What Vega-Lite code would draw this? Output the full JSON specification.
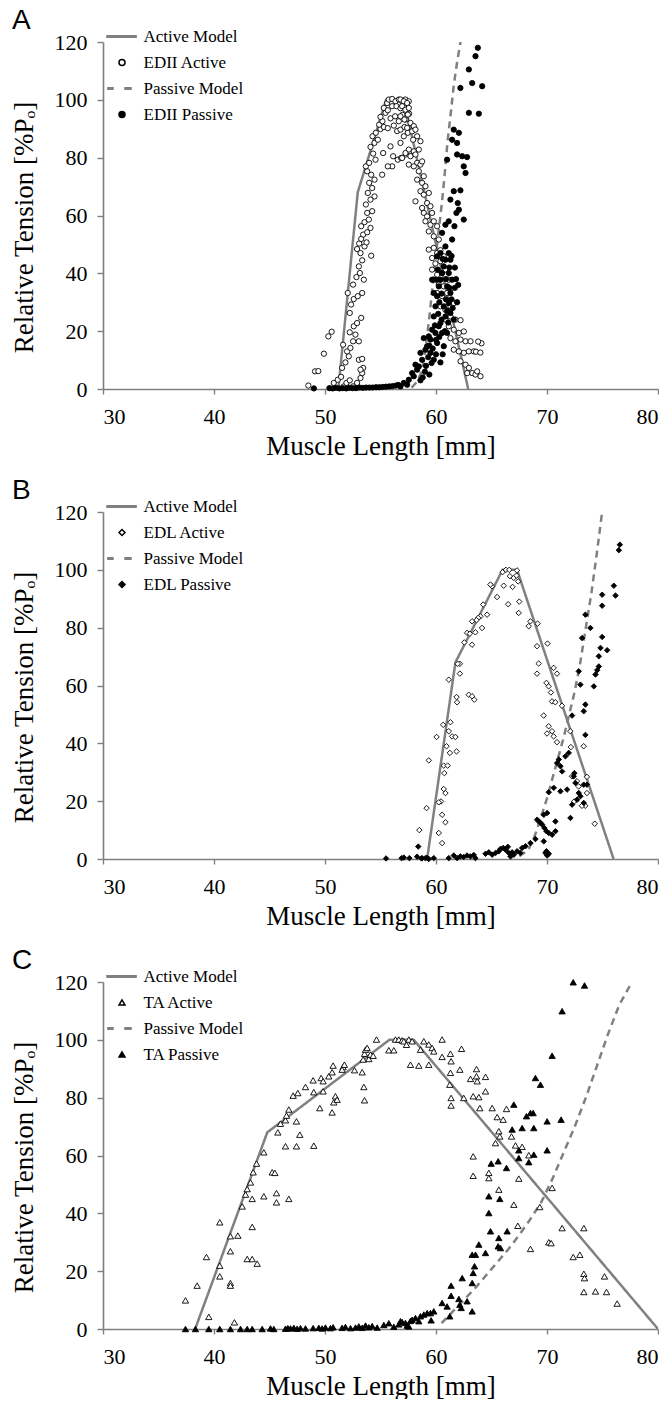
{
  "$schema": "https://vega.github.io/schema/vega-lite/v6.json",
  "padding": {"left": 10, "top": 7, "right": 0, "bottom": 0},
  "background": "white",
  "config": {
    "view": {"stroke": null},
    "axis": {"grid": false, "domainColor": "#7f7f7f", "domainWidth": 1.6, "tickColor": "#7f7f7f", "tickWidth": 1.4, "tickSize": 5, "labelFont": "Liberation Serif", "labelFontSize": 22, "labelColor": "black", "titleFont": "Liberation Serif", "titleFontSize": 27, "titleFontWeight": "normal", "titleColor": "black"},
    "title": {"font": "Liberation Sans", "fontSize": 28, "fontWeight": "normal", "color": "black", "anchor": "start", "frame": "group", "offset": -7},
    "legend": {"orient": "none", "legendX": 10.5, "legendY": -14, "title": null, "padding": 0, "labelFont": "Liberation Serif", "labelFontSize": 17, "labelColor": "black", "symbolSize": 36, "labelOffset": 13, "rowPadding": 8, "labelLimit": 0, "symbolOpacity": 1}
  },
  "datasets": {
    "A_model": [
      {"series": "Active Model", "x": 51.2, "y": 0}, {"series": "Active Model", "x": 52.95, "y": 68}, {"series": "Active Model", "x": 55.5, "y": 100}, {"series": "Active Model", "x": 57.1, "y": 100}, {"series": "Active Model", "x": 62.9, "y": 0},
      {"series": "Passive Model", "x": 57.8, "y": 0.5}, {"series": "Passive Model", "x": 58.3, "y": 2.5}, {"series": "Passive Model", "x": 58.75, "y": 6.5}, {"series": "Passive Model", "x": 59.05, "y": 14}, {"series": "Passive Model", "x": 59.35, "y": 23}, {"series": "Passive Model", "x": 59.65, "y": 34}, {"series": "Passive Model", "x": 59.95, "y": 45}, {"series": "Passive Model", "x": 60.25, "y": 55}, {"series": "Passive Model", "x": 60.55, "y": 65}, {"series": "Passive Model", "x": 60.8, "y": 75}, {"series": "Passive Model", "x": 61.05, "y": 86}, {"series": "Passive Model", "x": 61.35, "y": 96}, {"series": "Passive Model", "x": 61.6, "y": 105}, {"series": "Passive Model", "x": 61.9, "y": 113}, {"series": "Passive Model", "x": 62.25, "y": 121}
    ],
    "A_pts": [
      {"series": "EDII Active", "x": 48.5, "y": 1.2}, {"series": "EDII Active", "x": 49.1, "y": 6.1}, {"series": "EDII Active", "x": 49.4, "y": 6.2}, {"series": "EDII Active", "x": 49.9, "y": 12.2}, {"series": "EDII Active", "x": 50.3, "y": 18.2}, {"series": "EDII Active", "x": 50.6, "y": 19.8},
      {"series": "EDII Active", "x": 50.79, "y": 2.1}, {"series": "EDII Active", "x": 51.15, "y": 3.2}, {"series": "EDII Active", "x": 51.45, "y": 4.2}, {"series": "EDII Active", "x": 51.69, "y": 0.9}, {"series": "EDII Active", "x": 51.93, "y": 2.1}, {"series": "EDII Active", "x": 52.23, "y": 3.0}, {"series": "EDII Active", "x": 52.53, "y": 0.9}, {"series": "EDII Active", "x": 52.89, "y": 2.1}, {"series": "EDII Active", "x": 53.2, "y": 3.8}, {"series": "EDII Active", "x": 53.35, "y": 5.5}, {"series": "EDII Active", "x": 53.44, "y": 7.3}, {"series": "EDII Active", "x": 51.54, "y": 7.3}, {"series": "EDII Active", "x": 51.84, "y": 9.2}, {"series": "EDII Active", "x": 52.14, "y": 11.3}, {"series": "EDII Active", "x": 53.2, "y": 6.7}, {"series": "EDII Active", "x": 53.05, "y": 10.1}, {"series": "EDII Active", "x": 53.35, "y": 10.4},
      {"series": "EDII Active", "x": 51.63, "y": 15.3}, {"series": "EDII Active", "x": 51.99, "y": 13.0}, {"series": "EDII Active", "x": 52.29, "y": 14.2}, {"series": "EDII Active", "x": 52.53, "y": 16.5}, {"series": "EDII Active", "x": 52.74, "y": 18.8}, {"series": "EDII Active", "x": 53.05, "y": 16.5}, {"series": "EDII Active", "x": 52.23, "y": 19.6}, {"series": "EDII Active", "x": 52.59, "y": 21.7}, {"series": "EDII Active", "x": 52.89, "y": 22.8}, {"series": "EDII Active", "x": 53.26, "y": 24.6},
      {"series": "EDII Active", "x": 52.23, "y": 26.3}, {"series": "EDII Active", "x": 52.35, "y": 29.2}, {"series": "EDII Active", "x": 52.59, "y": 31.1}, {"series": "EDII Active", "x": 52.95, "y": 32.1}, {"series": "EDII Active", "x": 53.35, "y": 33.2}, {"series": "EDII Active", "x": 52.05, "y": 33.2}, {"series": "EDII Active", "x": 52.53, "y": 36.1}, {"series": "EDII Active", "x": 52.83, "y": 38.7}, {"series": "EDII Active", "x": 53.14, "y": 40.1}, {"series": "EDII Active", "x": 53.5, "y": 37.8},
      {"series": "EDII Active", "x": 53.05, "y": 42.4}, {"series": "EDII Active", "x": 53.35, "y": 44.5}, {"series": "EDII Active", "x": 54.16, "y": 46.1}, {"series": "EDII Active", "x": 53.2, "y": 47.0}, {"series": "EDII Active", "x": 52.89, "y": 48.4}, {"series": "EDII Active", "x": 53.56, "y": 49.3}, {"series": "EDII Active", "x": 53.74, "y": 50.7}, {"series": "EDII Active", "x": 53.08, "y": 50.3}, {"series": "EDII Active", "x": 53.26, "y": 51.9}, {"series": "EDII Active", "x": 53.44, "y": 53.4}, {"series": "EDII Active", "x": 53.8, "y": 54.2}, {"series": "EDII Active", "x": 54.1, "y": 55.7}, {"series": "EDII Active", "x": 53.26, "y": 56.3}, {"series": "EDII Active", "x": 53.56, "y": 57.7}, {"series": "EDII Active", "x": 53.95, "y": 58.6},
      {"series": "EDII Active", "x": 54.25, "y": 61.5}, {"series": "EDII Active", "x": 53.8, "y": 60.9}, {"series": "EDII Active", "x": 53.68, "y": 63.8}, {"series": "EDII Active", "x": 54.1, "y": 65.5}, {"series": "EDII Active", "x": 54.46, "y": 66.6}, {"series": "EDII Active", "x": 53.86, "y": 67.8}, {"series": "EDII Active", "x": 54.25, "y": 69.5}, {"series": "EDII Active", "x": 53.98, "y": 71.3}, {"series": "EDII Active", "x": 54.46, "y": 72.4}, {"series": "EDII Active", "x": 54.16, "y": 74.1}, {"series": "EDII Active", "x": 53.8, "y": 75.3}, {"series": "EDII Active", "x": 53.68, "y": 77.0}, {"series": "EDII Active", "x": 53.98, "y": 78.2}, {"series": "EDII Active", "x": 54.55, "y": 79.3}, {"series": "EDII Active", "x": 54.34, "y": 81.4}, {"series": "EDII Active", "x": 54.1, "y": 83.7}, {"series": "EDII Active", "x": 54.46, "y": 85.1}, {"series": "EDII Active", "x": 54.76, "y": 86.2}, {"series": "EDII Active", "x": 54.28, "y": 87.4}, {"series": "EDII Active", "x": 54.58, "y": 88.6}, {"series": "EDII Active", "x": 55.0, "y": 89.9}, {"series": "EDII Active", "x": 54.88, "y": 91.4}, {"series": "EDII Active", "x": 55.18, "y": 92.6}, {"series": "EDII Active", "x": 55.0, "y": 94.1}, {"series": "EDII Active", "x": 55.45, "y": 95.5}, {"series": "EDII Active", "x": 55.3, "y": 97.2}, {"series": "EDII Active", "x": 55.6, "y": 98.9}, {"series": "EDII Active", "x": 55.75, "y": 100.1},
      {"series": "EDII Active", "x": 56.05, "y": 100.3}, {"series": "EDII Active", "x": 56.35, "y": 99.5}, {"series": "EDII Active", "x": 56.65, "y": 100.1}, {"series": "EDII Active", "x": 56.95, "y": 99.5}, {"series": "EDII Active", "x": 57.25, "y": 100.1}, {"series": "EDII Active", "x": 57.55, "y": 99.5}, {"series": "EDII Active", "x": 55.66, "y": 96.4}, {"series": "EDII Active", "x": 56.05, "y": 97.8}, {"series": "EDII Active", "x": 56.44, "y": 97.8}, {"series": "EDII Active", "x": 56.8, "y": 97.1}, {"series": "EDII Active", "x": 57.1, "y": 97.8}, {"series": "EDII Active", "x": 57.4, "y": 96.6}, {"series": "EDII Active", "x": 55.9, "y": 93.6}, {"series": "EDII Active", "x": 56.32, "y": 94.3}, {"series": "EDII Active", "x": 56.65, "y": 92.6}, {"series": "EDII Active", "x": 56.98, "y": 94.8}, {"series": "EDII Active", "x": 57.28, "y": 93.2}, {"series": "EDII Active", "x": 57.58, "y": 95.2}, {"series": "EDII Active", "x": 55.3, "y": 90.6}, {"series": "EDII Active", "x": 55.66, "y": 90.2}, {"series": "EDII Active", "x": 56.2, "y": 91.1}, {"series": "EDII Active", "x": 56.5, "y": 89.2}, {"series": "EDII Active", "x": 56.8, "y": 89.7}, {"series": "EDII Active", "x": 57.16, "y": 90.6}, {"series": "EDII Active", "x": 57.46, "y": 88.6},
      {"series": "EDII Active", "x": 55.24, "y": 81.6}, {"series": "EDII Active", "x": 55.9, "y": 83.9}, {"series": "EDII Active", "x": 56.14, "y": 80.5}, {"series": "EDII Active", "x": 56.05, "y": 77.0}, {"series": "EDII Active", "x": 56.56, "y": 79.3}, {"series": "EDII Active", "x": 56.86, "y": 79.9}, {"series": "EDII Active", "x": 57.28, "y": 81.1}, {"series": "EDII Active", "x": 57.58, "y": 82.2}, {"series": "EDII Active", "x": 57.55, "y": 77.6}, {"series": "EDII Active", "x": 55.15, "y": 74.1}, {"series": "EDII Active", "x": 55.66, "y": 77.0},
      {"series": "EDII Active", "x": 56.8, "y": 100.1}, {"series": "EDII Active", "x": 57.1, "y": 99.5}, {"series": "EDII Active", "x": 57.4, "y": 98.9}, {"series": "EDII Active", "x": 56.95, "y": 97.8}, {"series": "EDII Active", "x": 57.25, "y": 96.6}, {"series": "EDII Active", "x": 57.55, "y": 97.2}, {"series": "EDII Active", "x": 56.8, "y": 94.3}, {"series": "EDII Active", "x": 57.16, "y": 93.2}, {"series": "EDII Active", "x": 57.46, "y": 94.9}, {"series": "EDII Active", "x": 57.7, "y": 92.0}, {"series": "EDII Active", "x": 58.0, "y": 90.9}, {"series": "EDII Active", "x": 57.4, "y": 90.3}, {"series": "EDII Active", "x": 57.85, "y": 89.1}, {"series": "EDII Active", "x": 58.15, "y": 89.7}, {"series": "EDII Active", "x": 58.3, "y": 87.4}, {"series": "EDII Active", "x": 57.1, "y": 87.4}, {"series": "EDII Active", "x": 56.8, "y": 85.1}, {"series": "EDII Active", "x": 58.6, "y": 85.7}, {"series": "EDII Active", "x": 57.94, "y": 86.2}, {"series": "EDII Active", "x": 57.55, "y": 82.8}, {"series": "EDII Active", "x": 58.0, "y": 82.2}, {"series": "EDII Active", "x": 58.45, "y": 82.8}, {"series": "EDII Active", "x": 57.25, "y": 81.6}, {"series": "EDII Active", "x": 57.7, "y": 80.5}, {"series": "EDII Active", "x": 58.15, "y": 81.1}, {"series": "EDII Active", "x": 56.95, "y": 79.9}, {"series": "EDII Active", "x": 58.3, "y": 78.2}, {"series": "EDII Active", "x": 58.6, "y": 77.6}, {"series": "EDII Active", "x": 58.75, "y": 78.7}, {"series": "EDII Active", "x": 58.0, "y": 77.0}, {"series": "EDII Active", "x": 58.45, "y": 75.3}, {"series": "EDII Active", "x": 58.9, "y": 73.6}, {"series": "EDII Active", "x": 58.3, "y": 72.4}, {"series": "EDII Active", "x": 58.75, "y": 71.3}, {"series": "EDII Active", "x": 59.05, "y": 70.1}, {"series": "EDII Active", "x": 58.6, "y": 68.4}, {"series": "EDII Active", "x": 58.9, "y": 67.2}, {"series": "EDII Active", "x": 59.35, "y": 67.8}, {"series": "EDII Active", "x": 58.15, "y": 64.9}, {"series": "EDII Active", "x": 59.2, "y": 64.3}, {"series": "EDII Active", "x": 58.75, "y": 62.6}, {"series": "EDII Active", "x": 59.5, "y": 63.2}, {"series": "EDII Active", "x": 58.9, "y": 60.9}, {"series": "EDII Active", "x": 59.2, "y": 59.7}, {"series": "EDII Active", "x": 59.65, "y": 60.9}, {"series": "EDII Active", "x": 59.05, "y": 58.0}, {"series": "EDII Active", "x": 59.5, "y": 56.8}, {"series": "EDII Active", "x": 59.8, "y": 58.0}, {"series": "EDII Active", "x": 60.1, "y": 56.3}, {"series": "EDII Active", "x": 59.35, "y": 54.5}, {"series": "EDII Active", "x": 59.8, "y": 52.8}, {"series": "EDII Active", "x": 60.25, "y": 51.7}, {"series": "EDII Active", "x": 59.35, "y": 48.2}, {"series": "EDII Active", "x": 59.8, "y": 48.8}, {"series": "EDII Active", "x": 60.1, "y": 47.0}, {"series": "EDII Active", "x": 60.4, "y": 48.0}, {"series": "EDII Active", "x": 59.65, "y": 45.3}, {"series": "EDII Active", "x": 59.95, "y": 43.4}, {"series": "EDII Active", "x": 60.4, "y": 44.2}, {"series": "EDII Active", "x": 60.7, "y": 45.9}, {"series": "EDII Active", "x": 59.65, "y": 41.3}, {"series": "EDII Active", "x": 60.1, "y": 39.5}, {"series": "EDII Active", "x": 60.55, "y": 40.1}, {"series": "EDII Active", "x": 60.85, "y": 41.3}, {"series": "EDII Active", "x": 59.8, "y": 37.8}, {"series": "EDII Active", "x": 60.25, "y": 36.1}, {"series": "EDII Active", "x": 60.7, "y": 35.5}, {"series": "EDII Active", "x": 61.15, "y": 37.8}, {"series": "EDII Active", "x": 60.1, "y": 33.2}, {"series": "EDII Active", "x": 60.55, "y": 32.1}, {"series": "EDII Active", "x": 61.0, "y": 33.2}, {"series": "EDII Active", "x": 61.3, "y": 34.4}, {"series": "EDII Active", "x": 60.4, "y": 28.6}, {"series": "EDII Active", "x": 60.85, "y": 27.4}, {"series": "EDII Active", "x": 61.3, "y": 28.6}, {"series": "EDII Active", "x": 61.6, "y": 29.7}, {"series": "EDII Active", "x": 60.85, "y": 24.0}, {"series": "EDII Active", "x": 61.3, "y": 25.1}, {"series": "EDII Active", "x": 61.75, "y": 24.0}, {"series": "EDII Active", "x": 62.21, "y": 23.8}, {"series": "EDII Active", "x": 61.15, "y": 21.7}, {"series": "EDII Active", "x": 61.6, "y": 20.5}, {"series": "EDII Active", "x": 62.06, "y": 19.4}, {"series": "EDII Active", "x": 62.51, "y": 19.9}, {"series": "EDII Active", "x": 61.3, "y": 17.6}, {"series": "EDII Active", "x": 61.75, "y": 16.5}, {"series": "EDII Active", "x": 62.21, "y": 17.1}, {"series": "EDII Active", "x": 62.66, "y": 16.5}, {"series": "EDII Active", "x": 63.11, "y": 16.5}, {"series": "EDII Active", "x": 61.6, "y": 13.6}, {"series": "EDII Active", "x": 62.06, "y": 13.0}, {"series": "EDII Active", "x": 62.51, "y": 12.5}, {"series": "EDII Active", "x": 62.96, "y": 13.0}, {"series": "EDII Active", "x": 63.41, "y": 13.0}, {"series": "EDII Active", "x": 62.21, "y": 9.6}, {"series": "EDII Active", "x": 62.66, "y": 8.4}, {"series": "EDII Active", "x": 62.96, "y": 7.3}, {"series": "EDII Active", "x": 63.26, "y": 5.5}, {"series": "EDII Active", "x": 63.56, "y": 5.0}, {"series": "EDII Active", "x": 64.01, "y": 4.4}, {"series": "EDII Active", "x": 62.81, "y": 5.5}, {"series": "EDII Active", "x": 63.71, "y": 6.1}, {"series": "EDII Active", "x": 64.1, "y": 15.8}, {"series": "EDII Active", "x": 63.6, "y": 12.9}, {"series": "EDII Active", "x": 64.0, "y": 12.6}, {"series": "EDII Active", "x": 63.8, "y": 16.4},
      {"series": "EDII Passive", "x": 49.0, "y": 0.2}, {"series": "EDII Passive", "x": 50.4, "y": 0.3}, {"series": "EDII Passive", "x": 50.7, "y": 0.2}, {"series": "EDII Passive", "x": 51.0, "y": 0.4}, {"series": "EDII Passive", "x": 51.3, "y": 0.2}, {"series": "EDII Passive", "x": 51.6, "y": 0.3}, {"series": "EDII Passive", "x": 51.9, "y": 0.2}, {"series": "EDII Passive", "x": 52.2, "y": 0.4}, {"series": "EDII Passive", "x": 52.5, "y": 0.3}, {"series": "EDII Passive", "x": 52.8, "y": 0.3}, {"series": "EDII Passive", "x": 53.1, "y": 0.5}, {"series": "EDII Passive", "x": 53.4, "y": 0.4}, {"series": "EDII Passive", "x": 53.7, "y": 0.5}, {"series": "EDII Passive", "x": 54.0, "y": 0.5}, {"series": "EDII Passive", "x": 54.3, "y": 0.5}, {"series": "EDII Passive", "x": 54.6, "y": 0.6}, {"series": "EDII Passive", "x": 54.9, "y": 0.6}, {"series": "EDII Passive", "x": 55.2, "y": 0.7}, {"series": "EDII Passive", "x": 55.5, "y": 0.8}, {"series": "EDII Passive", "x": 55.8, "y": 0.9}, {"series": "EDII Passive", "x": 56.1, "y": 1.0}, {"series": "EDII Passive", "x": 56.4, "y": 1.2}, {"series": "EDII Passive", "x": 56.6, "y": 1.4}, {"series": "EDII Passive", "x": 56.8, "y": 0.9}, {"series": "EDII Passive", "x": 57.1, "y": 2.1}, {"series": "EDII Passive", "x": 57.4, "y": 1.5}, {"series": "EDII Passive", "x": 57.55, "y": 3.2}, {"series": "EDII Passive", "x": 57.85, "y": 5.5}, {"series": "EDII Passive", "x": 58.0, "y": 4.4}, {"series": "EDII Passive", "x": 58.15, "y": 8.4}, {"series": "EDII Passive", "x": 58.3, "y": 6.7}, {"series": "EDII Passive", "x": 58.45, "y": 7.8}, {"series": "EDII Passive", "x": 58.6, "y": 12.5}, {"series": "EDII Passive", "x": 58.75, "y": 10.1}, {"series": "EDII Passive", "x": 58.9, "y": 17.6}, {"series": "EDII Passive", "x": 59.05, "y": 13.6}, {"series": "EDII Passive", "x": 59.2, "y": 14.8}, {"series": "EDII Passive", "x": 59.35, "y": 18.2}, {"series": "EDII Passive", "x": 59.5, "y": 17.1}, {"series": "EDII Passive", "x": 59.5, "y": 12.5}, {"series": "EDII Passive", "x": 59.65, "y": 20.5}, {"series": "EDII Passive", "x": 59.8, "y": 25.1}, {"series": "EDII Passive", "x": 59.8, "y": 10.1}, {"series": "EDII Passive", "x": 59.95, "y": 19.4}, {"series": "EDII Passive", "x": 59.95, "y": 28.6}, {"series": "EDII Passive", "x": 60.1, "y": 32.1}, {"series": "EDII Passive", "x": 60.1, "y": 15.9}, {"series": "EDII Passive", "x": 60.25, "y": 21.7}, {"series": "EDII Passive", "x": 60.25, "y": 35.5}, {"series": "EDII Passive", "x": 60.4, "y": 37.8}, {"series": "EDII Passive", "x": 60.4, "y": 22.8}, {"series": "EDII Passive", "x": 60.4, "y": 9.2}, {"series": "EDII Passive", "x": 60.55, "y": 40.1}, {"series": "EDII Passive", "x": 60.55, "y": 19.4}, {"series": "EDII Passive", "x": 60.7, "y": 42.4}, {"series": "EDII Passive", "x": 60.7, "y": 28.6}, {"series": "EDII Passive", "x": 60.7, "y": 14.8}, {"series": "EDII Passive", "x": 60.85, "y": 44.7}, {"series": "EDII Passive", "x": 60.85, "y": 25.1}, {"series": "EDII Passive", "x": 59.8, "y": 33.2}, {"series": "EDII Passive", "x": 60.04, "y": 37.8}, {"series": "EDII Passive", "x": 60.16, "y": 41.3}, {"series": "EDII Passive", "x": 59.65, "y": 37.8}, {"series": "EDII Passive", "x": 61.0, "y": 35.5}, {"series": "EDII Passive", "x": 61.0, "y": 19.4}, {"series": "EDII Passive", "x": 61.15, "y": 40.1}, {"series": "EDII Passive", "x": 61.15, "y": 29.7}, {"series": "EDII Passive", "x": 61.3, "y": 33.2}, {"series": "EDII Passive", "x": 61.3, "y": 26.3}, {"series": "EDII Passive", "x": 61.45, "y": 37.8}, {"series": "EDII Passive", "x": 61.6, "y": 24.0}, {"series": "EDII Passive", "x": 61.3, "y": 44.7}, {"series": "EDII Passive", "x": 60.4, "y": 47.0}, {"series": "EDII Passive", "x": 60.85, "y": 49.3}, {"series": "EDII Passive", "x": 60.1, "y": 45.9}, {"series": "EDII Passive", "x": 61.15, "y": 47.0}, {"series": "EDII Passive", "x": 61.45, "y": 51.7}, {"series": "EDII Passive", "x": 61.66, "y": 56.3}, {"series": "EDII Passive", "x": 61.84, "y": 60.9}, {"series": "EDII Passive", "x": 62.06, "y": 62.0}, {"series": "EDII Passive", "x": 61.96, "y": 64.3}, {"series": "EDII Passive", "x": 61.3, "y": 65.5}, {"series": "EDII Passive", "x": 61.6, "y": 68.4}, {"series": "EDII Passive", "x": 62.2, "y": 68.7}, {"series": "EDII Passive", "x": 62.5, "y": 58.6}, {"series": "EDII Passive", "x": 60.85, "y": 56.8}, {"series": "EDII Passive", "x": 60.55, "y": 54.0}, {"series": "EDII Passive", "x": 61.15, "y": 58.0}, {"series": "EDII Passive", "x": 61.0, "y": 79.3}, {"series": "EDII Passive", "x": 61.9, "y": 81.1}, {"series": "EDII Passive", "x": 62.36, "y": 80.5}, {"series": "EDII Passive", "x": 62.8, "y": 80.2}, {"series": "EDII Passive", "x": 62.5, "y": 77.0}, {"series": "EDII Passive", "x": 62.66, "y": 74.7}, {"series": "EDII Passive", "x": 61.45, "y": 86.2}, {"series": "EDII Passive", "x": 61.6, "y": 89.7}, {"series": "EDII Passive", "x": 62.06, "y": 88.6}, {"series": "EDII Passive", "x": 61.9, "y": 85.1}, {"series": "EDII Passive", "x": 62.96, "y": 95.5}, {"series": "EDII Passive", "x": 63.86, "y": 95.2}, {"series": "EDII Passive", "x": 62.2, "y": 104.1}, {"series": "EDII Passive", "x": 63.26, "y": 105.8}, {"series": "EDII Passive", "x": 64.16, "y": 104.7}, {"series": "EDII Passive", "x": 62.96, "y": 110.5}, {"series": "EDII Passive", "x": 63.56, "y": 115.1}, {"series": "EDII Passive", "x": 63.77, "y": 118.0},
      {"series": "EDII Passive", "x": 59.1, "y": 8}, {"series": "EDII Passive", "x": 59.3, "y": 11}, {"series": "EDII Passive", "x": 59.4, "y": 15}, {"series": "EDII Passive", "x": 59.6, "y": 9}, {"series": "EDII Passive", "x": 59.7, "y": 14}, {"series": "EDII Passive", "x": 59.9, "y": 22}, {"series": "EDII Passive", "x": 60.0, "y": 12}, {"series": "EDII Passive", "x": 60.0, "y": 17}, {"series": "EDII Passive", "x": 60.2, "y": 26}, {"series": "EDII Passive", "x": 60.3, "y": 18}, {"series": "EDII Passive", "x": 60.3, "y": 30}, {"series": "EDII Passive", "x": 60.5, "y": 24}, {"series": "EDII Passive", "x": 60.5, "y": 33}, {"series": "EDII Passive", "x": 60.6, "y": 12}, {"series": "EDII Passive", "x": 60.6, "y": 45}, {"series": "EDII Passive", "x": 60.8, "y": 20}, {"series": "EDII Passive", "x": 60.9, "y": 31}, {"series": "EDII Passive", "x": 60.9, "y": 38}, {"series": "EDII Passive", "x": 61.0, "y": 27}, {"series": "EDII Passive", "x": 61.1, "y": 23}, {"series": "EDII Passive", "x": 61.2, "y": 35}, {"series": "EDII Passive", "x": 61.2, "y": 42}, {"series": "EDII Passive", "x": 61.4, "y": 31}, {"series": "EDII Passive", "x": 61.4, "y": 46}, {"series": "EDII Passive", "x": 61.5, "y": 28}, {"series": "EDII Passive", "x": 61.7, "y": 35}, {"series": "EDII Passive", "x": 61.7, "y": 42}, {"series": "EDII Passive", "x": 61.8, "y": 38}, {"series": "EDII Passive", "x": 61.9, "y": 30}, {"series": "EDII Passive", "x": 62.0, "y": 36}, {"series": "EDII Passive", "x": 58.8, "y": 4}, {"series": "EDII Passive", "x": 59.0, "y": 6}, {"series": "EDII Passive", "x": 59.4, "y": 5}, {"series": "EDII Passive", "x": 58.6, "y": 3}
    ],
    "B_model": [
      {"series": "Active Model", "x": 59.2, "y": 0}, {"series": "Active Model", "x": 61.75, "y": 68}, {"series": "Active Model", "x": 66.0, "y": 100}, {"series": "Active Model", "x": 67.3, "y": 100}, {"series": "Active Model", "x": 76.0, "y": 0},
      {"series": "Passive Model", "x": 67.5, "y": 1}, {"series": "Passive Model", "x": 68.3, "y": 3}, {"series": "Passive Model", "x": 68.9, "y": 8}, {"series": "Passive Model", "x": 69.5, "y": 15}, {"series": "Passive Model", "x": 70.0, "y": 21}, {"series": "Passive Model", "x": 70.5, "y": 28}, {"series": "Passive Model", "x": 71.0, "y": 35}, {"series": "Passive Model", "x": 71.5, "y": 42}, {"series": "Passive Model", "x": 72.0, "y": 50}, {"series": "Passive Model", "x": 72.5, "y": 58}, {"series": "Passive Model", "x": 73.0, "y": 68}, {"series": "Passive Model", "x": 73.5, "y": 80}, {"series": "Passive Model", "x": 74.0, "y": 92}, {"series": "Passive Model", "x": 74.5, "y": 106}, {"series": "Passive Model", "x": 75.0, "y": 121}
    ],
    "B_pts": [
      {"series": "EDL Active", "x": 66.0, "y": 99.2}, {"series": "EDL Active", "x": 66.3, "y": 100}, {"series": "EDL Active", "x": 66.6, "y": 100}, {"series": "EDL Active", "x": 66.65, "y": 97.8}, {"series": "EDL Active", "x": 67.0, "y": 97.2}, {"series": "EDL Active", "x": 67.3, "y": 99.8}, {"series": "EDL Active", "x": 67.25, "y": 98.0}, {"series": "EDL Active", "x": 67.4, "y": 96.0}, {"series": "EDL Active", "x": 66.9, "y": 94.1}, {"series": "EDL Active", "x": 66.1, "y": 94.5}, {"series": "EDL Active", "x": 65.5, "y": 90.6}, {"series": "EDL Active", "x": 66.5, "y": 88.1}, {"series": "EDL Active", "x": 67.5, "y": 89.0}, {"series": "EDL Active", "x": 67.45, "y": 85.1}, {"series": "EDL Active", "x": 65.05, "y": 94.3}, {"series": "EDL Active", "x": 64.9, "y": 94.9}, {"series": "EDL Active", "x": 64.25, "y": 88.0}, {"series": "EDL Active", "x": 64.0, "y": 83.9}, {"series": "EDL Active", "x": 64.6, "y": 84.5}, {"series": "EDL Active", "x": 63.8, "y": 83.4}, {"series": "EDL Active", "x": 63.65, "y": 82.6}, {"series": "EDL Active", "x": 63.25, "y": 82.2}, {"series": "EDL Active", "x": 64.15, "y": 79.9}, {"series": "EDL Active", "x": 62.8, "y": 78.2}, {"series": "EDL Active", "x": 63.05, "y": 77.9}, {"series": "EDL Active", "x": 63.55, "y": 78.4}, {"series": "EDL Active", "x": 62.55, "y": 74.9}, {"series": "EDL Active", "x": 63.25, "y": 74.1}, {"series": "EDL Active", "x": 68.5, "y": 82.2}, {"series": "EDL Active", "x": 68.35, "y": 80.5}, {"series": "EDL Active", "x": 69.15, "y": 81.4}, {"series": "EDL Active", "x": 69.1, "y": 73.6}, {"series": "EDL Active", "x": 70.05, "y": 74.5}, {"series": "EDL Active", "x": 69.25, "y": 67.6}, {"series": "EDL Active", "x": 69.1, "y": 64.1}, {"series": "EDL Active", "x": 70.6, "y": 66.1}, {"series": "EDL Active", "x": 70.9, "y": 64.1}, {"series": "EDL Active", "x": 69.95, "y": 60.9}, {"series": "EDL Active", "x": 70.15, "y": 59.7}, {"series": "EDL Active", "x": 70.35, "y": 57.6}, {"series": "EDL Active", "x": 70.45, "y": 54.5}, {"series": "EDL Active", "x": 70.75, "y": 54.2}, {"series": "EDL Active", "x": 71.35, "y": 53.0}, {"series": "EDL Active", "x": 69.7, "y": 49.6}, {"series": "EDL Active", "x": 70.15, "y": 45.9}, {"series": "EDL Active", "x": 70.45, "y": 44.2}, {"series": "EDL Active", "x": 70.0, "y": 43.4}, {"series": "EDL Active", "x": 70.6, "y": 42.4}, {"series": "EDL Active", "x": 70.9, "y": 40.4}, {"series": "EDL Active", "x": 72.1, "y": 44.2}, {"series": "EDL Active", "x": 72.15, "y": 38.7}, {"series": "EDL Active", "x": 73.3, "y": 39.0}, {"series": "EDL Active", "x": 62.15, "y": 67.5}, {"series": "EDL Active", "x": 61.95, "y": 67.5}, {"series": "EDL Active", "x": 62.15, "y": 64.1}, {"series": "EDL Active", "x": 61.15, "y": 62.0}, {"series": "EDL Active", "x": 61.85, "y": 56.0}, {"series": "EDL Active", "x": 61.9, "y": 54.2}, {"series": "EDL Active", "x": 62.95, "y": 56.8}, {"series": "EDL Active", "x": 63.25, "y": 56.3}, {"series": "EDL Active", "x": 63.45, "y": 55.1}, {"series": "EDL Active", "x": 61.3, "y": 47.3}, {"series": "EDL Active", "x": 60.65, "y": 46.4}, {"series": "EDL Active", "x": 61.15, "y": 44.2}, {"series": "EDL Active", "x": 61.45, "y": 42.4}, {"series": "EDL Active", "x": 61.75, "y": 42.2}, {"series": "EDL Active", "x": 60.95, "y": 39.0}, {"series": "EDL Active", "x": 61.25, "y": 36.7}, {"series": "EDL Active", "x": 61.85, "y": 37.2}, {"series": "EDL Active", "x": 60.05, "y": 42.2}, {"series": "EDL Active", "x": 59.35, "y": 34.1}, {"series": "EDL Active", "x": 60.7, "y": 32.3}, {"series": "EDL Active", "x": 61.05, "y": 32.3}, {"series": "EDL Active", "x": 60.75, "y": 29.7}, {"series": "EDL Active", "x": 60.7, "y": 24.2}, {"series": "EDL Active", "x": 60.85, "y": 22.8}, {"series": "EDL Active", "x": 60.45, "y": 19.9}, {"series": "EDL Active", "x": 60.25, "y": 19.6}, {"series": "EDL Active", "x": 60.55, "y": 15.3}, {"series": "EDL Active", "x": 60.85, "y": 12.7}, {"series": "EDL Active", "x": 60.25, "y": 9.0}, {"series": "EDL Active", "x": 60.55, "y": 5.5}, {"series": "EDL Active", "x": 59.15, "y": 17.6}, {"series": "EDL Active", "x": 58.5, "y": 10.0}, {"series": "EDL Active", "x": 73.6, "y": 28.4}, {"series": "EDL Active", "x": 73.6, "y": 22.8}, {"series": "EDL Active", "x": 73.45, "y": 18.4}, {"series": "EDL Active", "x": 73.15, "y": 18.4}, {"series": "EDL Active", "x": 72.45, "y": 19.9}, {"series": "EDL Active", "x": 74.3, "y": 12.2}, {"series": "EDL Active", "x": 72.7, "y": 26.9}, {"series": "EDL Active", "x": 72.25, "y": 28.6}, {"series": "EDL Active", "x": 72.85, "y": 25.1},
      {"series": "EDL Passive", "x": 55.5, "y": 0.2}, {"series": "EDL Passive", "x": 56.9, "y": 0.3}, {"series": "EDL Passive", "x": 57.1, "y": 0.5}, {"series": "EDL Passive", "x": 57.6, "y": 0.3}, {"series": "EDL Passive", "x": 58.3, "y": 0.8}, {"series": "EDL Passive", "x": 58.4, "y": 4.3}, {"series": "EDL Passive", "x": 58.7, "y": 0.2}, {"series": "EDL Passive", "x": 59.2, "y": 0.4}, {"series": "EDL Passive", "x": 58.75, "y": 0.3}, {"series": "EDL Passive", "x": 59.05, "y": 0.3}, {"series": "EDL Passive", "x": 59.35, "y": 0}, {"series": "EDL Passive", "x": 59.8, "y": 0.3}, {"series": "EDL Passive", "x": 61.15, "y": 0.3}, {"series": "EDL Passive", "x": 61.6, "y": 1.2}, {"series": "EDL Passive", "x": 61.9, "y": 0.3}, {"series": "EDL Passive", "x": 62.2, "y": 0.9}, {"series": "EDL Passive", "x": 62.5, "y": 0.7}, {"series": "EDL Passive", "x": 62.8, "y": 1.2}, {"series": "EDL Passive", "x": 63.1, "y": 0.9}, {"series": "EDL Passive", "x": 63.4, "y": 1.4}, {"series": "EDL Passive", "x": 63.55, "y": 0.3}, {"series": "EDL Passive", "x": 64.46, "y": 1.8}, {"series": "EDL Passive", "x": 64.76, "y": 2.3}, {"series": "EDL Passive", "x": 65.06, "y": 1.5}, {"series": "EDL Passive", "x": 65.36, "y": 2.1}, {"series": "EDL Passive", "x": 65.66, "y": 2.7}, {"series": "EDL Passive", "x": 65.81, "y": 3.5}, {"series": "EDL Passive", "x": 66.05, "y": 3.8}, {"series": "EDL Passive", "x": 66.26, "y": 3.2}, {"series": "EDL Passive", "x": 66.47, "y": 4.2}, {"series": "EDL Passive", "x": 66.56, "y": 2.1}, {"series": "EDL Passive", "x": 66.71, "y": 0.9}, {"series": "EDL Passive", "x": 66.86, "y": 2.3}, {"series": "EDL Passive", "x": 67.01, "y": 1.5}, {"series": "EDL Passive", "x": 67.31, "y": 2.7}, {"series": "EDL Passive", "x": 67.61, "y": 2.1}, {"series": "EDL Passive", "x": 67.76, "y": 3.8}, {"series": "EDL Passive", "x": 68.06, "y": 4.4}, {"series": "EDL Passive", "x": 68.51, "y": 5.5}, {"series": "EDL Passive", "x": 68.96, "y": 6.9}, {"series": "EDL Passive", "x": 69.71, "y": 6.1}, {"series": "EDL Passive", "x": 69.95, "y": 2.7}, {"series": "EDL Passive", "x": 69.86, "y": 2.1}, {"series": "EDL Passive", "x": 70.16, "y": 1.8}, {"series": "EDL Passive", "x": 70.01, "y": 1.2},
      {"series": "EDL Passive", "x": 69.11, "y": 13.6}, {"series": "EDL Passive", "x": 69.26, "y": 13.0}, {"series": "EDL Passive", "x": 69.41, "y": 12.5}, {"series": "EDL Passive", "x": 69.56, "y": 11.9}, {"series": "EDL Passive", "x": 69.77, "y": 10.7}, {"series": "EDL Passive", "x": 69.95, "y": 9.6}, {"series": "EDL Passive", "x": 70.16, "y": 9.0}, {"series": "EDL Passive", "x": 70.46, "y": 8.4}, {"series": "EDL Passive", "x": 70.76, "y": 9.6}, {"series": "EDL Passive", "x": 69.71, "y": 15.3}, {"series": "EDL Passive", "x": 70.01, "y": 15.9}, {"series": "EDL Passive", "x": 70.76, "y": 13.0}, {"series": "EDL Passive", "x": 70.16, "y": 23.1}, {"series": "EDL Passive", "x": 70.61, "y": 24.6}, {"series": "EDL Passive", "x": 71.21, "y": 23.4}, {"series": "EDL Passive", "x": 71.81, "y": 24.0}, {"series": "EDL Passive", "x": 70.91, "y": 33.2}, {"series": "EDL Passive", "x": 71.06, "y": 34.4}, {"series": "EDL Passive", "x": 71.21, "y": 32.1}, {"series": "EDL Passive", "x": 71.36, "y": 30.3}, {"series": "EDL Passive", "x": 71.66, "y": 35.5}, {"series": "EDL Passive", "x": 71.96, "y": 36.7}, {"series": "EDL Passive", "x": 72.26, "y": 49.6}, {"series": "EDL Passive", "x": 73.31, "y": 51.1}, {"series": "EDL Passive", "x": 73.46, "y": 53.4}, {"series": "EDL Passive", "x": 73.01, "y": 60.3}, {"series": "EDL Passive", "x": 72.86, "y": 64.9}, {"series": "EDL Passive", "x": 73.16, "y": 76.4}, {"series": "EDL Passive", "x": 73.46, "y": 84.5}, {"series": "EDL Passive", "x": 73.91, "y": 79.9}, {"series": "EDL Passive", "x": 74.22, "y": 59.7}, {"series": "EDL Passive", "x": 74.37, "y": 63.8}, {"series": "EDL Passive", "x": 74.52, "y": 65.3}, {"series": "EDL Passive", "x": 74.67, "y": 66.6}, {"series": "EDL Passive", "x": 74.67, "y": 70.1}, {"series": "EDL Passive", "x": 74.82, "y": 73.0}, {"series": "EDL Passive", "x": 74.97, "y": 76.8}, {"series": "EDL Passive", "x": 75.42, "y": 72.2}, {"series": "EDL Passive", "x": 74.97, "y": 91.4}, {"series": "EDL Passive", "x": 74.97, "y": 87.6}, {"series": "EDL Passive", "x": 76.02, "y": 94.5}, {"series": "EDL Passive", "x": 76.17, "y": 91.1}, {"series": "EDL Passive", "x": 76.56, "y": 108.7}, {"series": "EDL Passive", "x": 76.47, "y": 106.8}, {"series": "EDL Passive", "x": 72.41, "y": 28.6}, {"series": "EDL Passive", "x": 72.56, "y": 26.3}, {"series": "EDL Passive", "x": 72.86, "y": 22.8}, {"series": "EDL Passive", "x": 73.01, "y": 21.7}, {"series": "EDL Passive", "x": 73.31, "y": 25.7}, {"series": "EDL Passive", "x": 73.6, "y": 25.7}, {"series": "EDL Passive", "x": 72.47, "y": 29.7}, {"series": "EDL Passive", "x": 72.71, "y": 20.5}, {"series": "EDL Passive", "x": 72.26, "y": 18.8}, {"series": "EDL Passive", "x": 72.11, "y": 14.2}, {"series": "EDL Passive", "x": 73.31, "y": 19.4}, {"series": "EDL Passive", "x": 73.46, "y": 42.9}
    ],
    "C_model": [
      {"series": "Active Model", "x": 38.3, "y": 0}, {"series": "Active Model", "x": 44.8, "y": 68}, {"series": "Active Model", "x": 55.8, "y": 100}, {"series": "Active Model", "x": 58.0, "y": 100}, {"series": "Active Model", "x": 80.0, "y": 0},
      {"series": "Passive Model", "x": 60.5, "y": 2}, {"series": "Passive Model", "x": 61.5, "y": 6}, {"series": "Passive Model", "x": 62.5, "y": 10}, {"series": "Passive Model", "x": 63.5, "y": 14}, {"series": "Passive Model", "x": 64.5, "y": 18.5}, {"series": "Passive Model", "x": 65.5, "y": 23}, {"series": "Passive Model", "x": 66.5, "y": 27.5}, {"series": "Passive Model", "x": 67.5, "y": 32.5}, {"series": "Passive Model", "x": 68.5, "y": 38}, {"series": "Passive Model", "x": 69.5, "y": 44}, {"series": "Passive Model", "x": 70.5, "y": 52}, {"series": "Passive Model", "x": 71.5, "y": 61}, {"series": "Passive Model", "x": 72.5, "y": 70}, {"series": "Passive Model", "x": 73.5, "y": 80}, {"series": "Passive Model", "x": 74.5, "y": 91}, {"series": "Passive Model", "x": 75.5, "y": 102}, {"series": "Passive Model", "x": 76.5, "y": 112}, {"series": "Passive Model", "x": 77.8, "y": 121}
    ],
    "C_pts": [
      {"series": "TA Active", "x": 37.43, "y": 9.9}, {"series": "TA Active", "x": 38.48, "y": 15.0}, {"series": "TA Active", "x": 39.32, "y": 24.9}, {"series": "TA Active", "x": 39.53, "y": 4.2}, {"series": "TA Active", "x": 40.52, "y": 36.9}, {"series": "TA Active", "x": 40.52, "y": 21.9}, {"series": "TA Active", "x": 40.52, "y": 18.2}, {"series": "TA Active", "x": 41.48, "y": 32.1}, {"series": "TA Active", "x": 42.15, "y": 32.3}, {"series": "TA Active", "x": 41.48, "y": 26.9}, {"series": "TA Active", "x": 41.48, "y": 15.9}, {"series": "TA Active", "x": 41.48, "y": 15.0}, {"series": "TA Active", "x": 41.84, "y": 2.3}, {"series": "TA Active", "x": 42.99, "y": 24.2}, {"series": "TA Active", "x": 43.44, "y": 24.2}, {"series": "TA Active", "x": 43.89, "y": 22.6}, {"series": "TA Active", "x": 43.44, "y": 35.3}, {"series": "TA Active", "x": 42.54, "y": 42.4}, {"series": "TA Active", "x": 42.84, "y": 46.5}, {"series": "TA Active", "x": 42.99, "y": 48.4}, {"series": "TA Active", "x": 43.29, "y": 50.7}, {"series": "TA Active", "x": 43.53, "y": 54.2}, {"series": "TA Active", "x": 43.83, "y": 57.2}, {"series": "TA Active", "x": 44.49, "y": 61.1}, {"series": "TA Active", "x": 44.49, "y": 45.9}, {"series": "TA Active", "x": 43.44, "y": 45.0}, {"series": "TA Active", "x": 45.63, "y": 47.0}, {"series": "TA Active", "x": 45.63, "y": 43.8}, {"series": "TA Active", "x": 46.74, "y": 45.0}, {"series": "TA Active", "x": 45.24, "y": 54.2}, {"series": "TA Active", "x": 45.48, "y": 54.0}, {"series": "TA Active", "x": 45.75, "y": 68.0}, {"series": "TA Active", "x": 45.99, "y": 71.0}, {"series": "TA Active", "x": 46.44, "y": 72.2}, {"series": "TA Active", "x": 46.53, "y": 73.8}, {"series": "TA Active", "x": 46.74, "y": 75.9}, {"series": "TA Active", "x": 47.43, "y": 71.8}, {"series": "TA Active", "x": 47.73, "y": 67.2}, {"series": "TA Active", "x": 46.44, "y": 63.2}, {"series": "TA Active", "x": 47.43, "y": 63.2}, {"series": "TA Active", "x": 48.99, "y": 63.4}, {"series": "TA Active", "x": 47.13, "y": 80.7}, {"series": "TA Active", "x": 47.55, "y": 81.6}, {"series": "TA Active", "x": 48.24, "y": 83.7}, {"series": "TA Active", "x": 48.93, "y": 86.0}, {"series": "TA Active", "x": 48.99, "y": 81.9}, {"series": "TA Active", "x": 49.65, "y": 86.8}, {"series": "TA Active", "x": 49.83, "y": 85.7}, {"series": "TA Active", "x": 49.83, "y": 82.2}, {"series": "TA Active", "x": 50.34, "y": 87.4}, {"series": "TA Active", "x": 50.64, "y": 88.8}, {"series": "TA Active", "x": 50.73, "y": 91.1}, {"series": "TA Active", "x": 49.53, "y": 76.4}, {"series": "TA Active", "x": 50.64, "y": 74.9}, {"series": "TA Active", "x": 50.79, "y": 78.4}, {"series": "TA Active", "x": 50.94, "y": 80.5}, {"series": "TA Active", "x": 51.09, "y": 79.3}, {"series": "TA Active", "x": 51.63, "y": 90.6}, {"series": "TA Active", "x": 51.75, "y": 91.4}, {"series": "TA Active", "x": 51.54, "y": 89.7}, {"series": "TA Active", "x": 52.66, "y": 89.5}, {"series": "TA Active", "x": 53.35, "y": 88.8}, {"series": "TA Active", "x": 53.44, "y": 93.2}, {"series": "TA Active", "x": 53.56, "y": 95.2}, {"series": "TA Active", "x": 53.65, "y": 96.6}, {"series": "TA Active", "x": 53.8, "y": 97.2}, {"series": "TA Active", "x": 53.95, "y": 93.4}, {"series": "TA Active", "x": 54.1, "y": 94.9}, {"series": "TA Active", "x": 54.34, "y": 94.5}, {"series": "TA Active", "x": 53.5, "y": 83.7}, {"series": "TA Active", "x": 53.56, "y": 79.1}, {"series": "TA Active", "x": 54.64, "y": 100.1}, {"series": "TA Active", "x": 55.75, "y": 96.4}, {"series": "TA Active", "x": 56.2, "y": 96.4}, {"series": "TA Active", "x": 56.35, "y": 100.1}, {"series": "TA Active", "x": 56.65, "y": 100.1}, {"series": "TA Active", "x": 56.95, "y": 99.8}, {"series": "TA Active", "x": 57.1, "y": 99.5}, {"series": "TA Active", "x": 57.34, "y": 98.3}, {"series": "TA Active", "x": 57.7, "y": 91.4},
      {"series": "TA Active", "x": 57.55, "y": 100.1}, {"series": "TA Active", "x": 57.85, "y": 99.5}, {"series": "TA Active", "x": 58.45, "y": 91.1}, {"series": "TA Active", "x": 58.9, "y": 99.5}, {"series": "TA Active", "x": 59.35, "y": 98.4}, {"series": "TA Active", "x": 58.6, "y": 96.6}, {"series": "TA Active", "x": 59.65, "y": 97.2}, {"series": "TA Active", "x": 59.8, "y": 96.0}, {"series": "TA Active", "x": 59.35, "y": 91.4}, {"series": "TA Active", "x": 60.55, "y": 100.1}, {"series": "TA Active", "x": 60.55, "y": 94.1}, {"series": "TA Active", "x": 61.3, "y": 95.2}, {"series": "TA Active", "x": 61.36, "y": 92.6}, {"series": "TA Active", "x": 62.3, "y": 96.9}, {"series": "TA Active", "x": 61.3, "y": 88.6}, {"series": "TA Active", "x": 62.15, "y": 89.7}, {"series": "TA Active", "x": 61.24, "y": 84.5}, {"series": "TA Active", "x": 61.36, "y": 79.9}, {"series": "TA Active", "x": 61.36, "y": 77.3}, {"series": "TA Active", "x": 62.5, "y": 79.9}, {"series": "TA Active", "x": 63.11, "y": 86.5}, {"series": "TA Active", "x": 63.65, "y": 89.9}, {"series": "TA Active", "x": 63.65, "y": 87.4}, {"series": "TA Active", "x": 63.71, "y": 85.7}, {"series": "TA Active", "x": 63.35, "y": 80.5}, {"series": "TA Active", "x": 63.86, "y": 80.2}, {"series": "TA Active", "x": 64.46, "y": 87.2}, {"series": "TA Active", "x": 64.46, "y": 82.2}, {"series": "TA Active", "x": 63.95, "y": 76.4}, {"series": "TA Active", "x": 65.06, "y": 76.4}, {"series": "TA Active", "x": 66.35, "y": 76.1}, {"series": "TA Active", "x": 65.51, "y": 73.3}, {"series": "TA Active", "x": 66.05, "y": 72.4}, {"series": "TA Active", "x": 65.66, "y": 68.4}, {"series": "TA Active", "x": 65.75, "y": 66.6}, {"series": "TA Active", "x": 66.8, "y": 66.6}, {"series": "TA Active", "x": 65.36, "y": 64.3}, {"series": "TA Active", "x": 67.16, "y": 63.5}, {"series": "TA Active", "x": 67.76, "y": 63.0}, {"series": "TA Active", "x": 68.36, "y": 60.1}, {"series": "TA Active", "x": 63.35, "y": 59.7}, {"series": "TA Active", "x": 63.35, "y": 53.0}, {"series": "TA Active", "x": 64.76, "y": 54.0}, {"series": "TA Active", "x": 64.76, "y": 52.2}, {"series": "TA Active", "x": 65.66, "y": 48.2}, {"series": "TA Active", "x": 67.46, "y": 52.0}, {"series": "TA Active", "x": 67.01, "y": 43.0}, {"series": "TA Active", "x": 69.35, "y": 42.2}, {"series": "TA Active", "x": 70.46, "y": 48.8}, {"series": "TA Active", "x": 67.37, "y": 35.7}, {"series": "TA Active", "x": 68.51, "y": 27.7}, {"series": "TA Active", "x": 70.16, "y": 30.0}, {"series": "TA Active", "x": 70.37, "y": 29.7}, {"series": "TA Active", "x": 71.36, "y": 34.9}, {"series": "TA Active", "x": 73.32, "y": 34.9}, {"series": "TA Active", "x": 72.36, "y": 24.9}, {"series": "TA Active", "x": 72.96, "y": 25.7}, {"series": "TA Active", "x": 73.32, "y": 19.1}, {"series": "TA Active", "x": 73.38, "y": 17.6}, {"series": "TA Active", "x": 73.32, "y": 12.8}, {"series": "TA Active", "x": 74.37, "y": 13.0}, {"series": "TA Active", "x": 75.18, "y": 18.2}, {"series": "TA Active", "x": 75.36, "y": 12.8}, {"series": "TA Active", "x": 76.32, "y": 8.8},
      {"series": "TA Passive", "x": 37.43, "y": 0}, {"series": "TA Passive", "x": 38.33, "y": 0}, {"series": "TA Passive", "x": 39.53, "y": 0}, {"series": "TA Passive", "x": 40.52, "y": 0}, {"series": "TA Passive", "x": 41.48, "y": 0}, {"series": "TA Passive", "x": 42.39, "y": 0}, {"series": "TA Passive", "x": 42.99, "y": 0}, {"series": "TA Passive", "x": 43.44, "y": 0}, {"series": "TA Passive", "x": 44.34, "y": 0}, {"series": "TA Passive", "x": 45.09, "y": 0.2}, {"series": "TA Passive", "x": 45.39, "y": 0}, {"series": "TA Passive", "x": 46.44, "y": 0.1}, {"series": "TA Passive", "x": 46.65, "y": 0.3}, {"series": "TA Passive", "x": 46.89, "y": 0.2}, {"series": "TA Passive", "x": 47.19, "y": 0.4}, {"series": "TA Passive", "x": 47.49, "y": 0.1}, {"series": "TA Passive", "x": 47.79, "y": 0.3}, {"series": "TA Passive", "x": 48.24, "y": 0.2}, {"series": "TA Passive", "x": 48.93, "y": 0.3}, {"series": "TA Passive", "x": 49.44, "y": 0.4}, {"series": "TA Passive", "x": 49.74, "y": 0.2}, {"series": "TA Passive", "x": 50.04, "y": 0.5}, {"series": "TA Passive", "x": 50.49, "y": 0.3}, {"series": "TA Passive", "x": 50.73, "y": 0.6}, {"series": "TA Passive", "x": 51.54, "y": 0.4}, {"series": "TA Passive", "x": 51.84, "y": 0.7}, {"series": "TA Passive", "x": 52.3, "y": 0.3}, {"series": "TA Passive", "x": 52.75, "y": 0.5}, {"series": "TA Passive", "x": 53.05, "y": 0.9}, {"series": "TA Passive", "x": 53.35, "y": 0.4}, {"series": "TA Passive", "x": 53.65, "y": 1.2}, {"series": "TA Passive", "x": 53.95, "y": 0.6}, {"series": "TA Passive", "x": 54.25, "y": 1.0}, {"series": "TA Passive", "x": 54.7, "y": 0.5}, {"series": "TA Passive", "x": 55.3, "y": 1.4}, {"series": "TA Passive", "x": 55.75, "y": 2.0}, {"series": "TA Passive", "x": 56.2, "y": 0.8}, {"series": "TA Passive", "x": 56.65, "y": 1.6}, {"series": "TA Passive", "x": 56.95, "y": 2.4}, {"series": "TA Passive", "x": 57.4, "y": 1.2}, {"series": "TA Passive", "x": 57.7, "y": 2.8},
      {"series": "TA Passive", "x": 56.8, "y": 2.7}, {"series": "TA Passive", "x": 57.25, "y": 2.1}, {"series": "TA Passive", "x": 57.55, "y": 0.9}, {"series": "TA Passive", "x": 57.85, "y": 3.2}, {"series": "TA Passive", "x": 58.15, "y": 3.8}, {"series": "TA Passive", "x": 58.45, "y": 2.7}, {"series": "TA Passive", "x": 58.6, "y": 4.4}, {"series": "TA Passive", "x": 58.9, "y": 5.0}, {"series": "TA Passive", "x": 59.2, "y": 5.5}, {"series": "TA Passive", "x": 59.5, "y": 5.5}, {"series": "TA Passive", "x": 59.8, "y": 6.1}, {"series": "TA Passive", "x": 59.56, "y": 3.0}, {"series": "TA Passive", "x": 60.55, "y": 9.0}, {"series": "TA Passive", "x": 61.0, "y": 7.8}, {"series": "TA Passive", "x": 61.24, "y": 4.4}, {"series": "TA Passive", "x": 61.36, "y": 15.0}, {"series": "TA Passive", "x": 61.36, "y": 11.5}, {"series": "TA Passive", "x": 62.06, "y": 10.4}, {"series": "TA Passive", "x": 62.15, "y": 8.4}, {"series": "TA Passive", "x": 62.27, "y": 7.3}, {"series": "TA Passive", "x": 62.36, "y": 17.6}, {"series": "TA Passive", "x": 62.8, "y": 9.6}, {"series": "TA Passive", "x": 63.26, "y": 6.1}, {"series": "TA Passive", "x": 63.26, "y": 15.9}, {"series": "TA Passive", "x": 63.35, "y": 19.4}, {"series": "TA Passive", "x": 63.47, "y": 21.7}, {"series": "TA Passive", "x": 63.26, "y": 25.7}, {"series": "TA Passive", "x": 63.56, "y": 25.7}, {"series": "TA Passive", "x": 63.86, "y": 29.2}, {"series": "TA Passive", "x": 64.46, "y": 26.3}, {"series": "TA Passive", "x": 64.91, "y": 33.8}, {"series": "TA Passive", "x": 65.6, "y": 28.6}, {"series": "TA Passive", "x": 65.81, "y": 28.0}, {"series": "TA Passive", "x": 65.66, "y": 31.5}, {"series": "TA Passive", "x": 66.41, "y": 33.8}, {"series": "TA Passive", "x": 64.76, "y": 40.1}, {"series": "TA Passive", "x": 64.76, "y": 45.9}, {"series": "TA Passive", "x": 65.75, "y": 45.0}, {"series": "TA Passive", "x": 64.97, "y": 57.2}, {"series": "TA Passive", "x": 65.6, "y": 58.0}, {"series": "TA Passive", "x": 66.35, "y": 55.7}, {"series": "TA Passive", "x": 67.01, "y": 77.6}, {"series": "TA Passive", "x": 66.86, "y": 69.0}, {"series": "TA Passive", "x": 67.76, "y": 69.5}, {"series": "TA Passive", "x": 68.81, "y": 69.5}, {"series": "TA Passive", "x": 68.15, "y": 73.6}, {"series": "TA Passive", "x": 68.51, "y": 74.7}, {"series": "TA Passive", "x": 68.75, "y": 74.7}, {"series": "TA Passive", "x": 67.46, "y": 61.8}, {"series": "TA Passive", "x": 67.46, "y": 59.1}, {"series": "TA Passive", "x": 68.36, "y": 57.7}, {"series": "TA Passive", "x": 68.81, "y": 60.3}, {"series": "TA Passive", "x": 70.01, "y": 71.8}, {"series": "TA Passive", "x": 70.01, "y": 61.8}, {"series": "TA Passive", "x": 71.27, "y": 72.4}, {"series": "TA Passive", "x": 68.96, "y": 86.8}, {"series": "TA Passive", "x": 69.41, "y": 84.5}, {"series": "TA Passive", "x": 70.46, "y": 94.5}, {"series": "TA Passive", "x": 71.36, "y": 109.9}, {"series": "TA Passive", "x": 72.36, "y": 119.9}, {"series": "TA Passive", "x": 73.38, "y": 118.8}
    ]
  },
  "resolve": {"scale": {"shape": "independent", "fill": "independent", "stroke": "independent", "strokeDash": "independent"}, "legend": {"shape": "independent", "fill": "independent", "stroke": "independent", "strokeDash": "independent"}},
  "vconcat": [
    {
      "width": 555, "height": 347,
      "title": {"text": "A", "dx": -91},
      "encoding": {
        "x": {"field": "x", "type": "quantitative", "scale": {"domain": [30, 80], "nice": false, "zero": false}, "axis": {"title": "Muscle Length [mm]", "values": [30, 40, 50, 60, 70, 80], "labelPadding": 12, "titleY": 65, "titleBaseline": "alphabetic", "labelFont": "Liberation Serif", "labelFontSize": 22, "titleFont": "Liberation Serif", "titleFontSize": 27, "titleFontWeight": "normal"}},
        "y": {"field": "y", "type": "quantitative", "scale": {"domain": [0, 120], "nice": false}, "axis": {"title": "Relative Tension [%Pₒ]", "values": [0, 20, 40, 60, 80, 100, 120], "tickSize": 6, "labelPadding": 10, "titleX": -79, "titleY": 185, "titleBaseline": "middle", "labelFont": "Liberation Serif", "labelFontSize": 22, "titleFont": "Liberation Serif", "titleFontSize": 27, "titleFontWeight": "normal"}}
      },
      "layer": [
        {"data": {"name": "A_model"}, "mark": {"type": "line", "color": "#808080", "strokeWidth": 2.5, "clip": true}, "encoding": {"strokeDash": {"field": "series", "type": "nominal", "scale": {"domain": ["Active Model", "Passive Model"], "range": [[1, 0], [7, 5]]}, "legend": null}}},
        {"data": {"name": "A_pts"}, "mark": {"type": "point", "strokeWidth": 0.9, "size": 28, "opacity": 1},
         "encoding": {
           "shape": {"field": "series", "type": "nominal", "scale": {"domain": ["Active Model", "EDII Active", "Passive Model", "EDII Passive"], "range": ["M-5,-0.27L4.7,-0.27L4.7,0.27L-5,0.27Z", "circle", "M-4.7,-0.27L-3,-0.27L-3,0.27L-4.7,0.27ZM1,-0.27L3,-0.27L3,0.27L1,0.27Z", "circle"]}, "legend": {}},
           "fill": {"field": "series", "type": "nominal", "scale": {"domain": ["Active Model", "EDII Active", "Passive Model", "EDII Passive"], "range": ["#808080", "white", "#808080", "black"]}, "legend": {}},
           "stroke": {"field": "series", "type": "nominal", "scale": {"domain": ["Active Model", "EDII Active", "Passive Model", "EDII Passive"], "range": ["#808080", "black", "#808080", "black"]}, "legend": {}}
         }}
      ]
    },
    {
      "width": 555, "height": 347,
      "title": {"text": "B", "dx": -91},
      "encoding": {
        "x": {"field": "x", "type": "quantitative", "scale": {"domain": [30, 80], "nice": false, "zero": false}, "axis": {"title": "Muscle Length [mm]", "values": [30, 40, 50, 60, 70, 80], "labelPadding": 12, "titleY": 65, "titleBaseline": "alphabetic", "labelFont": "Liberation Serif", "labelFontSize": 22, "titleFont": "Liberation Serif", "titleFontSize": 27, "titleFontWeight": "normal"}},
        "y": {"field": "y", "type": "quantitative", "scale": {"domain": [0, 120], "nice": false}, "axis": {"title": "Relative Tension [%Pₒ]", "values": [0, 20, 40, 60, 80, 100, 120], "tickSize": 6, "labelPadding": 10, "titleX": -79, "titleY": 185, "titleBaseline": "middle", "labelFont": "Liberation Serif", "labelFontSize": 22, "titleFont": "Liberation Serif", "titleFontSize": 27, "titleFontWeight": "normal"}}
      },
      "layer": [
        {"data": {"name": "B_model"}, "mark": {"type": "line", "color": "#808080", "strokeWidth": 2.5, "clip": true}, "encoding": {"strokeDash": {"field": "series", "type": "nominal", "scale": {"domain": ["Active Model", "Passive Model"], "range": [[1, 0], [7, 5]]}, "legend": null}}},
        {"data": {"name": "B_pts"}, "mark": {"type": "point", "strokeWidth": 0.9, "size": 30, "opacity": 1},
         "encoding": {
           "shape": {"field": "series", "type": "nominal", "scale": {"domain": ["Active Model", "EDL Active", "Passive Model", "EDL Passive"], "range": ["M-5,-0.27L4.7,-0.27L4.7,0.27L-5,0.27Z", "diamond", "M-4.7,-0.27L-3,-0.27L-3,0.27L-4.7,0.27ZM1,-0.27L3,-0.27L3,0.27L1,0.27Z", "diamond"]}, "legend": {}},
           "fill": {"field": "series", "type": "nominal", "scale": {"domain": ["Active Model", "EDL Active", "Passive Model", "EDL Passive"], "range": ["#808080", "white", "#808080", "black"]}, "legend": {}},
           "stroke": {"field": "series", "type": "nominal", "scale": {"domain": ["Active Model", "EDL Active", "Passive Model", "EDL Passive"], "range": ["#808080", "black", "#808080", "black"]}, "legend": {}}
         }}
      ]
    },
    {
      "width": 555, "height": 347,
      "title": {"text": "C", "dx": -91},
      "encoding": {
        "x": {"field": "x", "type": "quantitative", "scale": {"domain": [30, 80], "nice": false, "zero": false}, "axis": {"title": "Muscle Length [mm]", "values": [30, 40, 50, 60, 70, 80], "labelPadding": 12, "titleY": 65, "titleBaseline": "alphabetic", "labelFont": "Liberation Serif", "labelFontSize": 22, "titleFont": "Liberation Serif", "titleFontSize": 27, "titleFontWeight": "normal"}},
        "y": {"field": "y", "type": "quantitative", "scale": {"domain": [0, 120], "nice": false}, "axis": {"title": "Relative Tension [%Pₒ]", "values": [0, 20, 40, 60, 80, 100, 120], "tickSize": 6, "labelPadding": 10, "titleX": -79, "titleY": 185, "titleBaseline": "middle", "labelFont": "Liberation Serif", "labelFontSize": 22, "titleFont": "Liberation Serif", "titleFontSize": 27, "titleFontWeight": "normal"}}
      },
      "layer": [
        {"data": {"name": "C_model"}, "mark": {"type": "line", "color": "#808080", "strokeWidth": 2.5, "clip": true}, "encoding": {"strokeDash": {"field": "series", "type": "nominal", "scale": {"domain": ["Active Model", "Passive Model"], "range": [[1, 0], [7, 5]]}, "legend": null}}},
        {"data": {"name": "C_pts"}, "mark": {"type": "point", "strokeWidth": 0.9, "size": 40, "opacity": 1},
         "encoding": {
           "shape": {"field": "series", "type": "nominal", "scale": {"domain": ["Active Model", "TA Active", "Passive Model", "TA Passive"], "range": ["M-5,-0.27L4.7,-0.27L4.7,0.27L-5,0.27Z", "triangle-up", "M-4.7,-0.27L-3,-0.27L-3,0.27L-4.7,0.27ZM1,-0.27L3,-0.27L3,0.27L1,0.27Z", "triangle-up"]}, "legend": {}},
           "fill": {"field": "series", "type": "nominal", "scale": {"domain": ["Active Model", "TA Active", "Passive Model", "TA Passive"], "range": ["#808080", "white", "#808080", "black"]}, "legend": {}},
           "stroke": {"field": "series", "type": "nominal", "scale": {"domain": ["Active Model", "TA Active", "Passive Model", "TA Passive"], "range": ["#808080", "black", "#808080", "black"]}, "legend": {}}
         }}
      ]
    }
  ],
  "spacing": 123,
  "bounds": "flush"
}
